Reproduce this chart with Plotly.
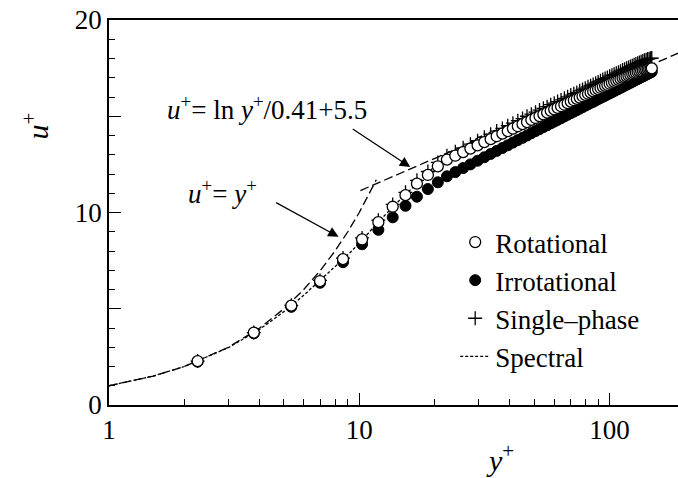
import plotly.graph_objects as go

# ---------------- data ----------------
yplus = [2.26, 3.79, 5.35, 6.97, 8.61, 10.26, 11.92, 13.6, 15.3, 17.0, 18.8, 20.6, 22.4,
         24.2, 26.0, 27.8, 29.7, 31.6, 33.5, 35.4, 37.3, 39.2, 41.1, 43.0, 44.9, 46.8, 48.7,
         50.6, 52.5, 54.4, 56.3, 58.2, 60.1, 62.0, 64.0, 66.0, 68.0, 70.0, 72.0, 74.0, 76.0,
         78.0, 80.0, 82.0, 84.0, 86.0, 88.0, 90.0, 92.0, 94.0, 96.0, 98.0, 100.1, 102.2,
         104.3, 106.4, 108.5, 110.6, 112.7, 114.8, 116.9, 119.0, 121.1, 123.2, 125.3, 127.4,
         129.5, 131.6, 133.7, 135.8, 137.9, 140.0, 142.0, 144.0, 146.0, 147.5]

u_rotational = [2.28, 3.76, 5.16, 6.44, 7.58, 8.60, 9.50, 10.30, 10.90, 11.50, 11.95, 12.40, 12.75,
                12.95, 13.14, 13.32, 13.49, 13.66, 13.81, 13.96, 14.10, 14.23, 14.36, 14.48, 14.59,
                14.70, 14.81, 14.91, 15.01, 15.10, 15.19, 15.28, 15.36, 15.44, 15.52, 15.60, 15.68,
                15.76, 15.83, 15.90, 15.97, 16.04, 16.11, 16.17, 16.23, 16.29, 16.35, 16.41, 16.47,
                16.53, 16.58, 16.63, 16.69, 16.74, 16.79, 16.84, 16.89, 16.94, 16.99, 17.03, 17.07,
                17.11, 17.15, 17.19, 17.23, 17.27, 17.30, 17.33, 17.36, 17.39, 17.42, 17.44, 17.46,
                17.47, 17.48, 17.49]

u_irrotational = [2.25, 3.72, 5.10, 6.35, 7.42, 8.35, 9.10, 9.75, 10.35, 10.82, 11.22, 11.57, 11.88,
                  12.10, 12.31, 12.50, 12.69, 12.87, 13.04, 13.20, 13.35, 13.49, 13.63, 13.76, 13.88,
                  14.00, 14.12, 14.23, 14.33, 14.44, 14.53, 14.63, 14.72, 14.81, 14.90, 14.99, 15.08,
                  15.16, 15.24, 15.32, 15.40, 15.47, 15.55, 15.62, 15.69, 15.75, 15.82, 15.89, 15.95,
                  16.01, 16.07, 16.13, 16.19, 16.25, 16.31, 16.37, 16.42, 16.48, 16.53, 16.59, 16.64,
                  16.69, 16.74, 16.79, 16.84, 16.89, 16.93, 16.98, 17.03, 17.07, 17.11, 17.16, 17.20,
                  17.24, 17.28, 17.31]

u_single = [2.28, 3.76, 5.18, 6.47, 7.63, 8.68, 9.60, 10.42, 11.05, 11.67, 12.13, 12.60, 12.95,
            13.16, 13.36, 13.55, 13.73, 13.91, 14.07, 14.23, 14.37, 14.51, 14.64, 14.77, 14.88,
            15.00, 15.11, 15.21, 15.32, 15.41, 15.50, 15.60, 15.68, 15.76, 15.85, 15.93, 16.01,
            16.10, 16.17, 16.24, 16.32, 16.39, 16.46, 16.53, 16.59, 16.65, 16.72, 16.78, 16.84,
            16.91, 16.96, 17.01, 17.08, 17.13, 17.18, 17.24, 17.29, 17.34, 17.40, 17.44, 17.49,
            17.53, 17.58, 17.62, 17.67, 17.71, 17.75, 17.79, 17.83, 17.87, 17.91, 17.94, 17.97,
            17.99, 18.01, 18.02]

spectral_y = [1.0, 1.5, 2.0, 3.0, 4.0, 5.0, 6.0, 7.0, 8.0, 9.0, 10.0, 12.0, 14.0, 16.0, 18.0,
              20.0, 25.0, 30.0, 40.0, 50.0, 60.0, 80.0, 100.0, 120.0, 147.0]
spectral_u = [1.0, 1.5, 2.0, 2.98, 3.93, 4.85, 5.70, 6.48, 7.17, 7.80, 8.40, 9.55, 10.45, 11.2,
              11.85, 12.4, 13.3, 13.9, 14.6, 15.2, 15.7, 16.45, 17.07, 17.55, 18.0]

visc_y = [1.0, 1.5, 2.0, 3.0, 4.0, 5.0, 6.0, 7.0, 8.0, 9.0, 10.0, 11.0, 11.7]
visc_u = [1.0, 1.5, 2.0, 3.0, 4.0, 5.0, 6.0, 7.0, 8.0, 9.0, 10.0, 11.0, 11.7]

loglaw_y = [10.1, 190.0]
loglaw_u = [11.14, 18.30]

x_major = [1, 10, 100]
x_minor = [2, 3, 4, 5, 6, 7, 8, 9, 20, 30, 40, 50, 60, 70, 80, 90]
y_major = [0, 5, 10, 15, 20]
y_labels = ["0", "", "10", "", "20"]

SERIF = "Liberation Serif"

W, H = 678, 478
L, T, B = 108.5, 20, 73


def px(X):  # screenshot x -> paper
    return (X - L) / (W - L)


def py(Y):  # screenshot y -> paper
    return (H - B - Y) / (H - T - B)


fig = go.Figure()

fig.add_trace(go.Scatter(x=spectral_y, y=spectral_u, mode="lines", name="Spectral",
                         line=dict(color="black", width=1.3, dash="3px,2px"),
                         legendrank=4, legendgroup="d"))
fig.add_trace(go.Scatter(x=visc_y, y=visc_u, mode="lines", showlegend=False,
                         line=dict(color="black", width=1.3, dash="9px,4px")))
fig.add_trace(go.Scatter(x=loglaw_y, y=loglaw_u, mode="lines", showlegend=False,
                         line=dict(color="black", width=1.3, dash="9px,4px")))
fig.add_trace(go.Scatter(x=yplus, y=u_single, mode="markers", name="Single\u2013phase",
                         marker=dict(symbol="cross-thin", size=10, color="black",
                                     line=dict(color="black", width=1.3)),
                         legendrank=3, legendgroup="c"))
fig.add_trace(go.Scatter(x=yplus, y=u_irrotational, mode="markers", name="Irrotational",
                         marker=dict(symbol="circle", size=11, color="black",
                                     line=dict(color="black", width=1)),
                         legendrank=2, legendgroup="b"))
fig.add_trace(go.Scatter(x=yplus, y=u_rotational, mode="markers", name="Rotational",
                         marker=dict(symbol="circle", size=11, color="white",
                                     line=dict(color="black", width=1.3)),
                         legendrank=1, legendgroup="a"))

fig.update_xaxes(type="log", range=[0, 2.2735], showgrid=False, zeroline=False,
                 showline=True, linecolor="black", linewidth=1.5, mirror=True,
                 ticks="inside", ticklen=12, tickwidth=1.3, tickcolor="black",
                 tickvals=x_major, ticktext=["1", "10", "100"],
                 minor=dict(tickvals=x_minor, ticks="inside", ticklen=6,
                            tickwidth=1.3, tickcolor="black"),
                 ticklabeloverflow="allow",
                 tickfont=dict(family=SERIF, size=27, color="black"))
fig.update_yaxes(range=[0, 20], showgrid=False, zeroline=False,
                 showline=True, linecolor="black", linewidth=1.5, mirror=False,
                 ticks="inside", ticklen=12, tickwidth=1.3, tickcolor="black",
                 tickvals=y_major, ticktext=y_labels,
                 minor=dict(dtick=1, ticks="inside", ticklen=6,
                            tickwidth=1.3, tickcolor="black"),
                 ticklabeloverflow="allow",
                 tickfont=dict(family=SERIF, size=27, color="black"))

ann_font = dict(family=SERIF, size=27, color="black")
annotations = [
    dict(text="<i>u</i><sup>+</sup>= ln <i>y</i><sup>+</sup>/0.41+5.5", xref="paper", yref="paper",
         x=px(267), y=py(108), xanchor="center", yanchor="middle", showarrow=False, font=ann_font),
    dict(text="<i>u</i><sup>+</sup>= <i>y</i><sup>+</sup>", xref="paper", yref="paper",
         x=px(222), y=py(192), xanchor="center", yanchor="middle", showarrow=False, font=ann_font),
    dict(text="", x=1.2036, y=12.36, xref="x", yref="y", showarrow=True,
         ax=-59, ay=-39, arrowhead=2, arrowsize=1.6, arrowwidth=1.3, arrowcolor="black"),
    dict(text="", x=0.9174, y=8.74, xref="x", yref="y", showarrow=True,
         ax=-64, ay=-35, arrowhead=2, arrowsize=1.6, arrowwidth=1.3, arrowcolor="black"),
    dict(text="<i>y</i><sup>+</sup>", xref="paper", yref="paper",
         x=px(500), y=py(458), xanchor="center", yanchor="middle", showarrow=False,
         font=dict(family=SERIF, size=30, color="black")),
    dict(text="<i>u</i><sup>+</sup>", xref="paper", yref="paper", textangle=-90,
         x=px(35), y=py(126), xanchor="center", yanchor="middle", showarrow=False,
         font=dict(family=SERIF, size=30, color="black")),
]

fig.update_layout(
    width=W, height=H,
    margin=dict(l=L, r=0, t=T, b=B, autoexpand=False),
    paper_bgcolor="white", plot_bgcolor="white",
    showlegend=True,
    legend=dict(x=px(455), y=py(218), xanchor="left", yanchor="top",
                bgcolor="rgba(0,0,0,0)", traceorder="grouped", tracegroupgap=0,
                font=dict(family=SERIF, size=27, color="black")),
    annotations=annotations,
)

fig.write_html("out.html", config={"displayModeBar": False},
               post_script="document.body.style.margin='0px';")
